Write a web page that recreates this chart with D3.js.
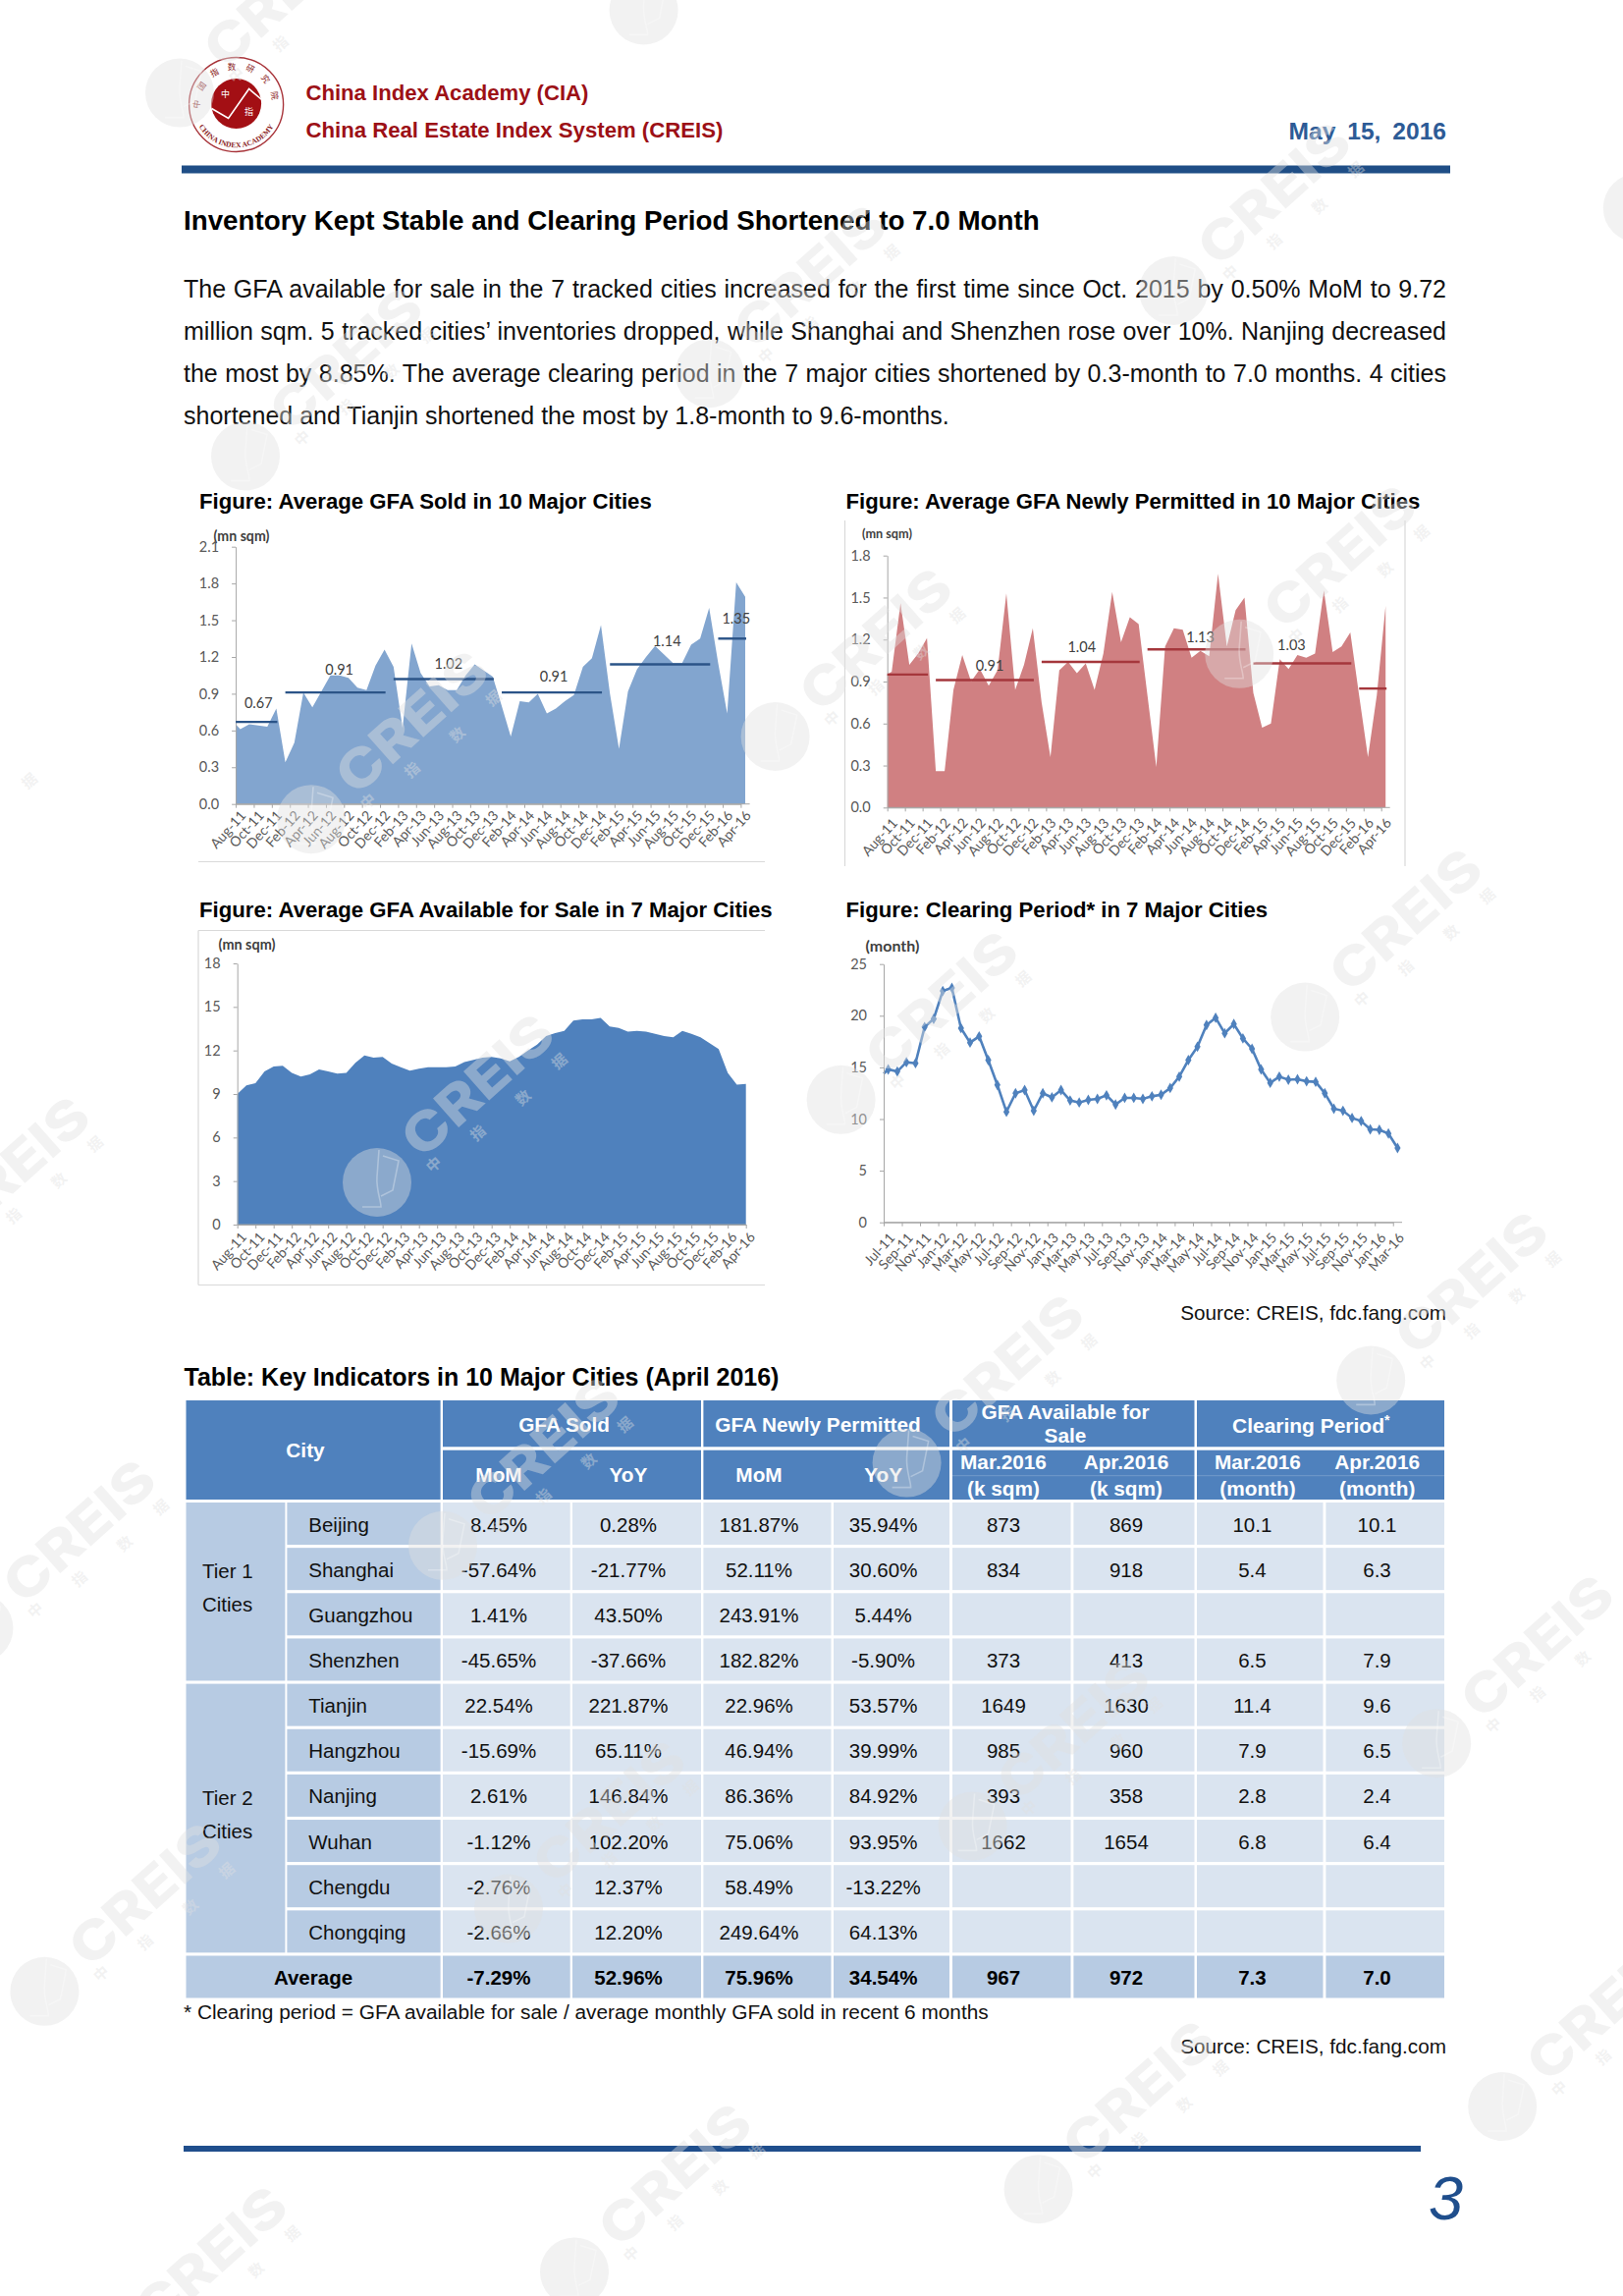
<!DOCTYPE html>
<html><head><meta charset="utf-8">
<script src="https://cdnjs.cloudflare.com/ajax/libs/d3/7.8.5/d3.min.js"></script>
<style>html,body{margin:0;padding:0;background:#fff}svg{display:block}</style>
</head><body>
<svg id="page" width="1653" height="2338" viewBox="0 0 1653 2338"></svg>
<script>
// ---------- chart data ----------
const tickLabelsAug = ["Aug-11","Oct-11","Dec-11","Feb-12","Apr-12","Jun-12","Aug-12","Oct-12","Dec-12","Feb-13","Apr-13","Jun-13","Aug-13","Oct-13","Dec-13","Feb-14","Apr-14","Jun-14","Aug-14","Oct-14","Dec-14","Feb-15","Apr-15","Jun-15","Aug-15","Oct-15","Dec-15","Feb-16","Apr-16"];
const tickLabelsJul = ["Jul-11","Sep-11","Nov-11","Jan-12","Mar-12","May-12","Jul-12","Sep-12","Nov-12","Jan-13","Mar-13","May-13","Jul-13","Sep-13","Nov-13","Jan-14","Mar-14","May-14","Jul-14","Sep-14","Nov-14","Jan-15","Mar-15","May-15","Jul-15","Sep-15","Nov-15","Jan-16","Mar-16"];

const soldLeadIn = 0.65;
const soldValues = [.61,.65,.64,.63,.78,.34,.50,.91,.79,.92,1.05,1.05,1.03,.95,.93,1.13,1.26,1.12,.62,1.31,1.07,.96,.97,.93,.93,1.05,1.14,1.09,1.04,.80,.55,.84,.83,.90,.74,.78,.84,.89,1.12,1.19,1.46,.90,.45,.92,1.10,1.20,1.29,1.22,1.15,1.15,1.30,1.35,1.60,1.15,.74,1.81,1.69];
const soldAvgValues = [.67,.91,1.02,.91,1.14,1.35];
const soldAvgFrom = [0,5,17,29,41,53];
const soldAvgTo = [4,16,28,40,52,56];
const soldAvgLabels = ["0.67","0.91","1.02","0.91","1.14","1.35"];
const soldYTicks = [0,.3,.6,.9,1.2,1.5,1.8,2.1];

const permitLeadIn = 0.95;
const permitValues = [.97,1.46,1.02,1.10,1.21,.26,.26,.84,1.09,.90,.99,.87,.98,1.53,.84,1.02,1.28,.75,.36,.98,1.04,.96,1.03,.84,1.10,1.54,1.18,1.36,1.31,.80,.29,1.15,1.28,1.27,1.07,1.12,1.08,1.67,1.15,1.41,1.50,.82,.57,.60,1.06,.99,1.09,1.07,1.10,1.55,1.11,1.15,1.25,.80,.36,.80,1.44];
const permitAvgValues = [.95,.91,1.04,1.13,1.03,.85];
const permitAvgFrom = [0,5,17,29,41,53];
const permitAvgTo = [4,16,28,40,52,56];
const permitAvgLabels = [null,"0.91","1.04","1.13","1.03",null];
const permitYTicks = [0,.3,.6,.9,1.2,1.5,1.8];

const availValues = [9.0,9.6,9.75,10.55,10.9,10.95,10.45,10.2,10.35,10.7,10.55,10.4,10.45,11.15,11.65,11.5,11.55,11.1,10.85,10.6,10.75,10.85,10.85,10.85,10.9,11.2,11.35,11.5,11.55,11.45,11.25,11.55,12.0,12.4,13.0,13.2,13.35,14.05,14.15,14.15,14.25,13.65,13.55,13.3,13.35,13.3,13.15,13.0,12.9,13.35,13.15,12.9,12.5,12.1,10.45,9.65,9.7];
const availYTicks = [0,3,6,9,12,15,18];

const clearingLeadIn = 14.4;
const clearingValues = [14.8,14.6,15.5,15.4,18.9,19.7,22.4,22.7,18.8,17.4,18.0,15.7,13.3,10.7,12.5,12.8,10.8,12.5,12.1,12.8,11.8,11.6,11.85,11.95,12.3,11.4,12.05,12.05,11.95,12.2,12.35,13.0,14.1,15.7,17.0,19.1,19.8,18.3,19.2,17.8,16.8,14.8,13.5,14.1,13.8,13.85,13.65,13.6,12.5,11.0,10.8,10.1,9.8,9.0,8.95,8.6,7.2];
const clearingYTicks = [0,5,10,15,20,25];

// ---------- table data ----------
const cities = ["Beijing","Shanghai","Guangzhou","Shenzhen","Tianjin","Hangzhou","Nanjing","Wuhan","Chengdu","Chongqing"];
const soldMoM = ["8.45%","-57.64%","1.41%","-45.65%","22.54%","-15.69%","2.61%","-1.12%","-2.76%","-2.66%"];
const soldYoY = ["0.28%","-21.77%","43.50%","-37.66%","221.87%","65.11%","146.84%","102.20%","12.37%","12.20%"];
const permitMoM = ["181.87%","52.11%","243.91%","182.82%","22.96%","46.94%","86.36%","75.06%","58.49%","249.64%"];
const permitYoY = ["35.94%","30.60%","5.44%","-5.90%","53.57%","39.99%","84.92%","93.95%","-13.22%","64.13%"];
const availMar = ["873","834","","373","1649","985","393","1662","",""];
const availApr = ["869","918","","413","1630","960","358","1654","",""];
const clearMar = ["10.1","5.4","","6.5","11.4","7.9","2.8","6.8","",""];
const clearApr = ["10.1","6.3","","7.9","9.6","6.5","2.4","6.4","",""];
const averageRow = ["-7.29%","52.96%","75.96%","34.54%","967","972","7.3","7.0"];

const paragraphLines = [
 "The GFA available for sale in the 7 tracked cities increased for the first time since Oct. 2015 by 0.50% MoM to 9.72",
 "million sqm. 5 tracked cities\u2019 inventories dropped, while Shanghai and Shenzhen rose over 10%. Nanjing decreased",
 "the most by 8.85%. The average clearing period in the 7 major cities shortened by 0.3-month to 7.0 months. 4 cities",
 "shortened and Tianjin shortened the most by 1.8-month to 9.6-months."];

// ---------- helpers ----------
const svg = d3.select("#page");
const SANS = "'Liberation Sans',Arial,sans-serif", CAL = "Lato,'Open Sans',sans-serif";
const NAVY = "#1f4e8c", WINE = "#9c1016", HEAD = "#4f81bd", LIGHT = "#dae4f0", MID = "#b7cbe3";

function put(g, str, x, y, o = {}) {
  const t = g.append("text").attr("x", x).attr("y", y).text(str)
    .attr("font-family", o.family || SANS).attr("font-size", o.size || 20)
    .attr("font-weight", o.weight || "normal").attr("font-style", o.style || "normal")
    .attr("fill", o.fill || "#000").attr("text-anchor", o.anchor || "start")
    .attr("dominant-baseline", "central");
  if (o.width) {
    const len = t.node().getComputedTextLength();
    t.attr("font-size", (o.size || 20) * o.width / len);
  }
  return t;
}
function rect(g, x0, y0, x1, y1, fill) {
  return g.append("rect").attr("x", x0).attr("y", y0).attr("width", x1 - x0).attr("height", y1 - y0).attr("fill", fill);
}
function styleAxis(a, o) {
  a.selectAll("path,line").attr("stroke", "#a6a6a6").attr("stroke-width", 1);
  a.selectAll("text").attr("font-family", CAL).attr("fill", "#595959").attr("font-size", o.size);
}
function rotateLabels(a, dx, dy, size) {
  a.selectAll(".tick text").attr("text-anchor", "end").attr("x", 0).attr("y", 0).attr("dy", ".35em")
    .attr("font-size", size)
    .attr("transform", `translate(${dx},${dy}) rotate(-48)`);
}
function yAxis(g, y, ticks, x0, fmt) {
  const a = g.append("g").attr("transform", `translate(${x0},0)`)
    .call(d3.axisLeft(y).tickValues(ticks).tickFormat(fmt).tickSize(4).tickPadding(13).tickSizeOuter(0));
  styleAxis(a, { size: 14.5 });
}
function xAxisAt(g, tickScale, y0, extent, dx, dy) {
  const a = g.append("g").attr("transform", `translate(0,${y0})`)
    .call(d3.axisBottom(tickScale).tickSize(4).tickSizeOuter(0));
  styleAxis(a, { size: 14 });
  rotateLabels(a, dx, dy, 14);
  g.append("line").attr("x1", extent[0]).attr("x2", extent[1]).attr("y1", y0).attr("y2", y0).attr("stroke", "#a6a6a6");
}
const f1 = d3.format(".1f"), f0 = d3.format("d");

function bandChart(o) {
  const g = svg.append("g");
  const x = d3.scaleBand().domain(d3.range(o.values.length)).range(o.xr);
  const cx = i => x(i) + x.bandwidth() / 2;
  const y = d3.scaleLinear().domain([0, o.yMax]).range(o.yr);
  const pts = [{ px: o.xr[0], v: o.leadIn }].concat(o.values.map((v, i) => ({ px: cx(i), v })));
  if (o.area) {
    g.append("path").datum(pts).attr("fill", o.fill)
      .attr("d", d3.area().x(d => d.px).y0(y(0)).y1(d => y(d.v)));
  } else {
    g.append("path").datum(pts).attr("fill", "none").attr("stroke", o.fill).attr("stroke-width", 2.6)
      .attr("d", d3.line().x(d => d.px).y(d => y(d.v)));
    g.selectAll("path.mk").data(o.values).join("path").attr("class", "mk")
      .attr("fill", o.fill).attr("d", d3.symbol(d3.symbolDiamond, 34))
      .attr("transform", (d, i) => `translate(${cx(i)},${y(d)})`);
  }
  yAxis(g, y, o.yTicks, o.xr[0], o.fmt);
  const tx = d3.scalePoint().domain(o.labels).range([o.xr[0], o.xr[0] + 56 * x.step()]);
  xAxisAt(g, tx, o.yr[0], o.xr, o.dx, o.dy);
  if (o.avg) {
    o.avg.values.forEach((v, k) => {
      const a = o.avg.from[k] === 0 ? o.xr[0] : cx(o.avg.from[k]);
      const b = cx(o.avg.to[k]) + 1;
      g.append("line").attr("x1", a).attr("x2", b).attr("y1", y(v)).attr("y2", y(v))
        .attr("stroke", o.avg.color).attr("stroke-width", 2.4);
      if (o.avg.labels[k]) put(g, o.avg.labels[k], (a + b) / 2 + o.avg.dx[k], y(v) - o.avg.lift[k],
        { family: CAL, size: 14.5, fill: "#404040", anchor: "middle" });
    });
  }
}

// ---------- page header ----------
(function logo() {
  const g = svg.append("g").attr("transform", "translate(240.6,106.5)");
  g.append("circle").attr("r", 48).attr("fill", "#fff").attr("stroke", "#a8343a").attr("stroke-width", 1.4);
  g.append("circle").attr("cy", -1).attr("r", 25.5).attr("fill", "#a30f14");
  g.append("path").attr("d", "M-25,4 L-8,14 L13,-16 L26,-5").attr("fill", "none").attr("stroke", "#fff").attr("stroke-width", 1.6);
  g.append("text").text("中").attr("x", -11).attr("y", -8).attr("font-size", 9).attr("fill", "#fff").attr("text-anchor", "middle").attr("font-family", "'Noto Sans CJK SC'");
  g.append("text").text("指").attr("x", 13).attr("y", 10).attr("font-size", 9).attr("fill", "#fff").attr("text-anchor", "middle").attr("font-family", "'Noto Sans CJK SC'");
  const defs = g.append("defs");
  defs.append("path").attr("id", "arcTop").attr("d", "M-35,13 A37,37 0 1 1 35,13");
  defs.append("path").attr("id", "arcBot").attr("d", "M-42,14 A44.5,44.5 0 0 0 42,14");
  g.append("text").attr("font-size", 8.5).attr("fill", "#8a1a20").attr("font-family", "'Noto Sans CJK SC'")
    .append("textPath").attr("href", "#arcTop").attr("startOffset", "50%").attr("text-anchor", "middle").attr("letter-spacing", 9).text("中国指数研究院");
  g.append("text").attr("font-size", 7.5).attr("font-weight", "bold").attr("fill", "#8a1a20").attr("font-family", "'Liberation Serif',serif")
    .append("textPath").attr("href", "#arcBot").attr("startOffset", "50%").attr("text-anchor", "middle").text("CHINA INDEX ACADEMY");
})();
const hdr = svg.append("g");
put(hdr, "China Index Academy (CIA)", 311.5, 94, { weight: "bold", fill: WINE, width: 288 });
put(hdr, "China Real Estate Index System (CREIS)", 311.5, 132, { weight: "bold", fill: WINE, width: 425 });
put(hdr, "May 15, 2016", 1473, 133, { size: 24.6, weight: "bold", fill: "#2d5b96", anchor: "end" }).attr("word-spacing", 5);
rect(hdr, 185, 168.5, 1477, 176.5, "#1f4e86");
put(hdr, "Inventory Kept Stable and Clearing Period Shortened to 7.0 Month", 187, 224.5, { weight: "bold", width: 872 });

const paraY = [293.5, 337, 380, 423];
const paraSize = 25;
paragraphLines.forEach((line, i) => {
  const t = put(hdr, line, 187, paraY[i], { size: paraSize, fill: "#111" });
  if (i < 3) {
    const gaps = line.split(" ").length - 1;
    t.attr("word-spacing", (1286 - t.node().getComputedTextLength()) / gaps);
  }
});

// ---------- figure titles and frames ----------
const titles = svg.append("g");
put(titles, "Figure: Average GFA Sold in 10 Major Cities", 203, 510, { weight: "bold", width: 461 });
put(titles, "Figure: Average GFA Newly Permitted in 10 Major Cities", 861.5, 510, { weight: "bold", width: 585 });
put(titles, "Figure: Average GFA Available for Sale in 7 Major Cities", 203, 926.5, { weight: "bold", width: 584 });
put(titles, "Figure: Clearing Period* in 7 Major Cities", 861.5, 926.5, { weight: "bold", width: 430 });
const frame = svg.append("g").attr("stroke", "#d9d9d9").attr("stroke-width", 1.2);
[[202, 877.5, 779, 877.5], [860.5, 530, 860.5, 882], [1431, 530, 1431, 882], [202, 947.5, 779, 947.5], [202, 1308.5, 779, 1308.5], [202, 947.5, 202, 1308.5]]
  .forEach(d => frame.append("line").attr("x1", d[0]).attr("y1", d[1]).attr("x2", d[2]).attr("y2", d[3]));
const unit = { family: CAL, size: 12.5, weight: "bold", fill: "#404040" };
put(titles, "(mn sqm)", 217.5, 545, Object.assign({}, unit, { width: 57 }));
put(titles, "(mn sqm)", 878, 543, Object.assign({}, unit, { width: 51 }));
put(titles, "(mn sqm)", 222.5, 961.5, Object.assign({}, unit, { width: 58 }));
put(titles, "(month)", 881.5, 962, Object.assign({}, unit, { width: 55 }));

// ---------- charts ----------
bandChart({ values: soldValues, leadIn: soldLeadIn, area: true, fill: "#82a5cf", labels: tickLabelsAug,
  xr: [240.1, 763.6], yr: [818.7, 556.7], yMax: 2.1, yTicks: soldYTicks, fmt: f1, dx: 7, dy: 9,
  avg: { values: soldAvgValues, from: soldAvgFrom, to: soldAvgTo, labels: soldAvgLabels, color: "#2b5488",
         lift: [20, 24, 16, 17, 24, 21], dx: [2, 4, 5, 2, 7, 4] } });
bandChart({ values: permitValues, leadIn: permitLeadIn, area: true, fill: "#d08082", labels: tickLabelsAug,
  xr: [903.7, 1415.7], yr: [822.3, 565.7], yMax: 1.8, yTicks: permitYTicks, fmt: f1, dx: 7, dy: 13,
  avg: { values: permitAvgValues, from: permitAvgFrom, to: permitAvgTo, labels: permitAvgLabels, color: "#a5373c",
         lift: [0, 15, 16, 13, 19, 0], dx: [0, 5, -9, 4, -11, 0] } });

(function availability() {
  const g = svg.append("g");
  const x = d3.scalePoint().domain(d3.range(availValues.length)).range([241.7, 759.7]);
  const y = d3.scaleLinear().domain([0, 18]).range([1247, 981]);
  g.append("path").datum(availValues).attr("fill", "#4f81bd")
    .attr("d", d3.area().x((d, i) => x(i)).y0(y(0)).y1(d => y(d)));
  yAxis(g, y, availYTicks, 241.7, f0);
  const tx = d3.scalePoint().domain(tickLabelsAug).range([241.7, 759.7]);
  xAxisAt(g, tx, 1247, [241.7, 759.7], 6, 10);
})();

bandChart({ values: clearingValues, leadIn: clearingLeadIn, area: false, fill: "#4f81bd", labels: tickLabelsJul,
  xr: [900, 1428], yr: [1244.7, 981.7], yMax: 25, yTicks: clearingYTicks, fmt: f0, dx: 8, dy: 13 });

put(titles, "Source: CREIS, fdc.fang.com", 1473, 1336, { anchor: "end", width: 271, fill: "#111" });

// ---------- table ----------
const tb = svg.append("g");
put(tb, "Table: Key Indicators in 10 Major Cities (April 2016)", 187.5, 1401.5, { weight: "bold", width: 606 });
const colL = [451, 583, 716.4, 849, 970, 1093.4, 1219, 1350.4];
const colR = [580.7, 714, 846.5, 967, 1090.5, 1216.5, 1347.5, 1471];
const colC = [508, 640, 773, 899.6, 1022, 1147, 1275.4, 1402.5];
const rowTop = i => 1530 + 46.15 * i, rowH = 43;

// header
rect(tb, 189.5, 1426, 448.6, 1527, HEAD);
rect(tb, 451, 1426, 714, 1473.3, HEAD); rect(tb, 716.4, 1426, 967, 1473.3, HEAD);
rect(tb, 970, 1426, 1216.5, 1473.3, HEAD); rect(tb, 1219, 1426, 1471, 1473.3, HEAD);
rect(tb, 451, 1476.7, 714, 1527, HEAD); rect(tb, 716.4, 1476.7, 967, 1527, HEAD);
rect(tb, 970, 1476.7, 1216.5, 1527, HEAD); rect(tb, 1219, 1476.7, 1471, 1527, HEAD);
const hw = { weight: "bold", fill: "#fff", anchor: "middle", size: 20.8 };
put(tb, "City", 311, 1476.5, hw);
put(tb, "GFA Sold", 574.6, 1450, hw);
put(tb, "GFA Newly Permitted", 833, 1450, hw);
put(tb, "GFA Available for", 1085, 1437, hw);
put(tb, "Sale", 1085, 1461, hw);
put(tb, "Clearing Period", 1332.5, 1451.5, Object.assign({}, hw, { width: 155 }));
tb.append("text").text("*").attr("x", 1410).attr("y", 1451).attr("fill", "#fff").attr("font-family", SANS).attr("font-size", 14).attr("font-weight", "bold");
["MoM", "YoY", "MoM", "YoY"].forEach((s, i) => put(tb, s, colC[i], 1501.5, hw));
const hdrX = [1022, 1147, 1281, 1402.7];
["Mar.2016", "Apr.2016", "Mar.2016", "Apr.2016"].forEach((s, i) => put(tb, s, hdrX[i], 1488.5, hw));
["(k sqm)", "(k sqm)", "(month)", "(month)"].forEach((s, i) => put(tb, s, hdrX[i], 1515, hw));
tb.append("line").attr("x1", 970).attr("x2", 1471).attr("y1", 1502.7).attr("y2", 1502.7).attr("stroke", "#fff").attr("stroke-opacity", .2);

// tiers
rect(tb, 189.5, rowTop(0), 290.4, rowTop(3) + rowH, MID);
rect(tb, 189.5, rowTop(4), 290.4, rowTop(9) + rowH, MID);
const tierText = { size: 20.5, fill: "#111" };
put(tb, "Tier 1", 206, 1599.5, tierText); put(tb, "Cities", 206, 1633, tierText);
put(tb, "Tier 2", 206, 1830, tierText); put(tb, "Cities", 206, 1864, tierText);

const columns = [soldMoM, soldYoY, permitMoM, permitYoY, availMar, availApr, clearMar, clearApr];
cities.forEach((c, i) => {
  rect(tb, 292.4, rowTop(i), 448.6, rowTop(i) + rowH, MID);
  put(tb, c, 314.3, rowTop(i) + 22, { size: 20.5, fill: "#111" });
  columns.forEach((col, k) => {
    rect(tb, colL[k], rowTop(i), colR[k], rowTop(i) + rowH, LIGHT);
    if (col[i]) put(tb, col[i], colC[k], rowTop(i) + 22, { size: 20.5, fill: "#111", anchor: "middle" });
  });
});
rect(tb, 189.5, rowTop(10), 448.6, rowTop(10) + rowH, MID);
put(tb, "Average", 319, rowTop(10) + 21.5, { size: 20.5, weight: "bold", anchor: "middle" });
averageRow.forEach((s, k) => {
  rect(tb, colL[k], rowTop(10), colR[k], rowTop(10) + rowH, MID);
  put(tb, s, colC[k], rowTop(10) + 21.5, { size: 20.5, weight: "bold", anchor: "middle" });
});
put(tb, "* Clearing period = GFA available for sale / average monthly GFA sold in recent 6 months", 187, 2048.5, { width: 820, fill: "#111" });
put(tb, "Source: CREIS, fdc.fang.com", 1473, 2083.5, { anchor: "end", width: 271, fill: "#111" });

// ---------- footer ----------
rect(svg, 187, 2185, 1447, 2191, "#1f4e8c");
put(svg, "3", 1455, 2238, { size: 63, style: "italic", fill: "#1f4e8c" });

// ---------- watermark ----------
(function watermark() {
  const g = svg.append("g").attr("pointer-events", "none");
  const ink = "rgb(225,225,225)", a = .42;
  const ax = 472.6, ay = -84.2, bx = 67, by = 369.8, ox = 384, oy = 1204;
  const inside = (x, y, m) => x > m && x < 1653 - m && y > m && y < 2338 - m;
  const chars = [["中", 57, -19], ["指", 102, -51], ["数", 148, -87], ["据", 185, -124]];
  for (let i = -3; i <= 3; i++) for (let j = -4; j <= 4; j++) {
    const cx = ox + i * ax + j * bx, cy = oy + i * ay + j * by;
    const w = g.append("g").attr("transform", `translate(${cx},${cy})`);
    if (inside(cx, cy, -40)) {
      w.append("circle").attr("r", 35).attr("fill", ink).attr("fill-opacity", a);
      w.append("path").attr("d", "M2,-33 L0,-6 C-1,8 4,18 4,25 L-15,25 M6,-27 L22,-22 L16,8 L4,14")
        .attr("fill", "none").attr("stroke", "#fff").attr("stroke-opacity", .3).attr("stroke-width", 1.6);
    }
    if (inside(cx + 102, cy - 99, -20)) {
      w.append("text").text("CREIS").attr("transform", "translate(102,-99) rotate(-41.7)")
        .attr("text-anchor", "middle").attr("dominant-baseline", "central")
        .attr("font-family", "Inter,'Liberation Sans',sans-serif").attr("font-weight", 800).attr("font-size", 54)
        .attr("textLength", 186).attr("lengthAdjust", "spacingAndGlyphs")
        .attr("fill", ink).attr("fill-opacity", a);
    }
    chars.forEach(d => {
      if (!inside(cx + d[1], cy + d[2], 12)) return;
      w.append("text").text(d[0]).attr("transform", `translate(${d[1]},${d[2]}) rotate(-41.7)`)
        .attr("text-anchor", "middle").attr("dominant-baseline", "central")
        .attr("font-family", "'Noto Sans CJK SC'").attr("font-weight", "bold").attr("font-size", 15)
        .attr("fill", ink).attr("fill-opacity", a);
    });
  }
})();
</script>
</body></html>
